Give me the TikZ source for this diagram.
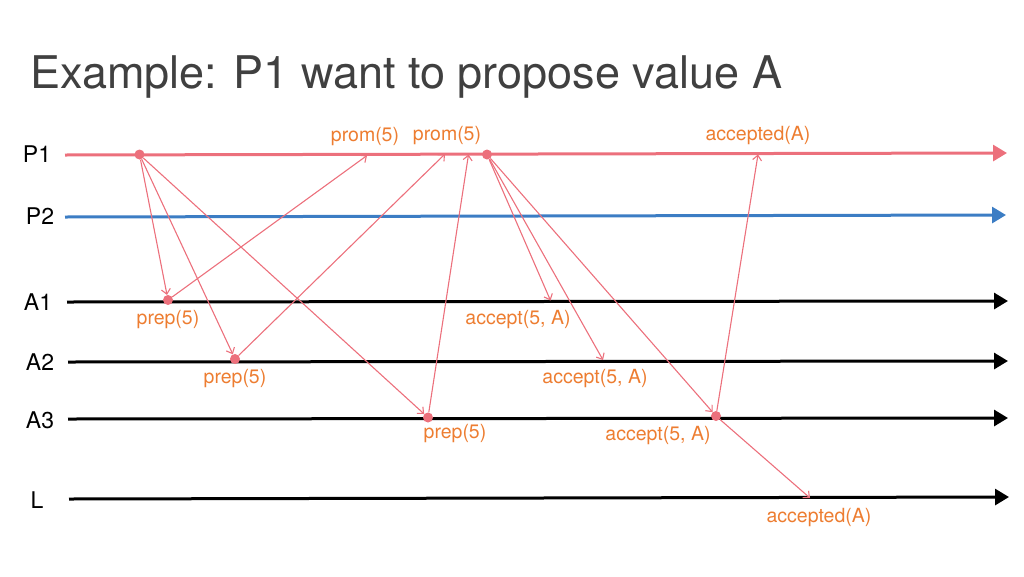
\documentclass[tikz,border=0pt]{standalone}
\usepackage{fontspec}
\setmainfont{TeX Gyre Heros}
\usetikzlibrary{arrows.meta}
\definecolor{pone}{RGB}{236,112,124}
\definecolor{ptwo}{RGB}{60,125,196}
\definecolor{lbl}{RGB}{237,125,49}
\definecolor{ttl}{RGB}{64,64,64}
\begin{document}
\begin{tikzpicture}[x=1pt,y=-1pt,
  track/.style={line width=3pt,-{Triangle[length=14pt,width=16pt]}},
  msg/.style={pone,line width=1.1pt,-{Straight Barb[length=5pt,width=9pt]}},
  dot/.style={circle,fill=pone,inner sep=0pt,minimum size=10pt},
  lab/.style={text=lbl,font=\fontsize{19.5}{22}\selectfont,inner sep=0pt},
  tlab/.style={font=\fontsize{23}{26}\selectfont,inner sep=0pt}]
\useasboundingbox (0,0) rectangle (1024,576);

% title
\node[anchor=base west,inner sep=0pt,text=ttl,font=\fontsize{45}{50}\selectfont] (title) at (30,88.5) {Example: P1 want to propose value A};

% track labels
\node[tlab] (lp1) at (37,154) {P1};
\node[tlab] (lp2) at (40,216) {P2};
\node[tlab] (la1) at (38,302) {A1};
\node[tlab] (la2) at (40,362) {A2};
\node[tlab] (la3) at (40,420) {A3};
\node[tlab] (ll) at (37,500) {L};

% track ends
\coordinate (p1s) at (65,155);  \coordinate (p1e) at (1007,153);
\coordinate (p2s) at (65,217);  \coordinate (p2e) at (1006,215);
\coordinate (a1s) at (67,302);  \coordinate (a1e) at (1008,301);
\coordinate (a2s) at (68,362);  \coordinate (a2e) at (1008,361);
\coordinate (a3s) at (68,419);  \coordinate (a3e) at (1008,418);
\coordinate (ls)  at (69,499);  \coordinate (le)  at (1009,497);

\draw[track,pone] (p1s) -- (p1e);
\draw[track,ptwo] (p2s) -- (p2e);
\draw[track,black] (a1s) -- (a1e);
\draw[track,black] (a2s) -- (a2e);
\draw[track,black] (a3s) -- (a3e);
\draw[track,black] (ls) -- (le);

% event dots
\node[dot] (d0) at (139.5,154.5) {};
\node[dot] (pa1) at (168,300) {};
\node[dot] (pa2) at (235,359) {};
\node[dot] (pa3) at (428,417.5) {};
\node[dot] (d1) at (487,154.5) {};
\node[dot] (ca3) at (716,416) {};

% arrival points
\coordinate (r1) at (367,155.5);
\coordinate (r2) at (445,154);
\coordinate (r3) at (468.5,154.5);
\coordinate (s1) at (550.5,300.5);
\coordinate (s2) at (603,360);
\coordinate (t1) at (758,154.5);
\coordinate (t2) at (810,498);

% messages
\draw[msg] (d0) -- (pa1);
\draw[msg] (d0) -- (pa2);
\draw[msg] (d0) -- (pa3);
\draw[msg] (pa1) -- (r1);
\draw[msg] (pa2) -- (r2);
\draw[msg] (pa3) -- (r3);
\draw[msg] (d1) -- (s1);
\draw[msg] (d1) -- (s2);
\draw[msg] (d1) -- (ca3);
\draw[msg] (ca3) -- (t1);
\draw[msg] (ca3) -- (t2);

% message labels
\node[lab] (m1) at (365,137) {prom(5)};
\node[lab] (m2) at (447,136) {prom(5)};
\node[lab] (m3) at (758,136) {accepted(A)};
\node[lab] (m4) at (168,320) {prep(5)};
\node[lab] (m5) at (235,379) {prep(5)};
\node[lab] (m6) at (455,434) {prep(5)};
\node[lab] (m7) at (518,320) {accept(5, A)};
\node[lab] (m8) at (595,379) {accept(5, A)};
\node[lab] (m9) at (658,436) {accept(5, A)};
\node[lab] (m10) at (819,518) {accepted(A)};
\end{tikzpicture}
\end{document}
